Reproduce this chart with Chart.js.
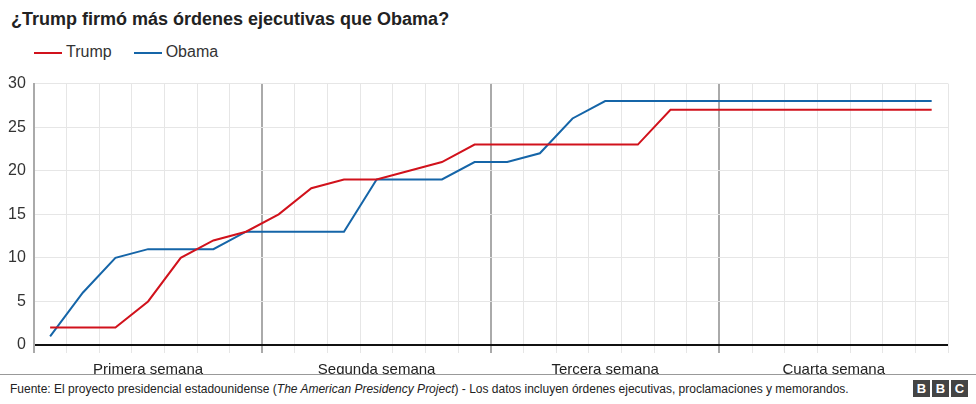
<!DOCTYPE html>
<html><head><meta charset="utf-8">
<script src="https://cdn.jsdelivr.net/npm/chart.js@4"></script>
<style>
body{margin:0;width:976px;height:404px;background:#fff;font-family:"Liberation Sans",Arial,sans-serif;position:relative;overflow:hidden}
#title{position:absolute;left:11px;top:9px;font-weight:bold;font-size:18px;color:#222}
#legend{position:absolute;left:34px;top:43px;font-size:16px;color:#333}
#legend span{display:inline-block;margin-right:22px}
#legend i{display:inline-block;width:28px;height:2px;vertical-align:middle;margin-right:4px}
#wrap{position:absolute;left:0;top:66px;width:976px;height:313px}
#foot{position:absolute;left:0;top:374px;width:976px;border-top:1px solid #999;font-size:12px;color:#222;padding:7px 10px;background:#fff}
#bbc{position:absolute;right:8px;top:379px}
#bbc b{display:inline-block;width:17px;height:17px;background:#444;color:#fff;font-size:13px;text-align:center;line-height:17px;margin-left:2px}
</style></head><body>
<div id="title">¿Trump firmó más órdenes ejecutivas que Obama?</div>
<div id="legend"><span><i style="background:#d1121c"></i>Trump</span><span><i style="background:#1565a8"></i>Obama</span></div>
<div id="wrap"><canvas id="c"></canvas></div>
<div id="foot">Fuente: El proyecto presidencial estadounidense (<i>The American Presidency Project</i>) - Los datos incluyen órdenes ejecutivas, proclamaciones y memorandos.</div>
<div id="bbc"><b>B</b><b>B</b><b>C</b></div>
<script>
const days = Array.from({length: 28}, (_, i) => "Día " + (i + 1));
const weeks = ["Primera semana", "Segunda semana", "Tercera semana", "Cuarta semana"];
const trump = [2,2,2,5,10,12,13,15,18,19,19,20,21,23,23,23,23,23,23,27,27,27,27,27,27,27,27,27];
const obama = [1,6,10,11,11,11,13,13,13,13,19,19,19,21,21,22,26,28,28,28,28,28,28,28,28,28,28,28];

new Chart(document.getElementById("c"), {
  type: "line",
  data: {
    labels: days,
    datasets: [
      { label: "Trump", data: trump, borderColor: "#d1121c", borderWidth: 2, pointRadius: 0, tension: 0 },
      { label: "Obama", data: obama, borderColor: "#1565a8", borderWidth: 2, pointRadius: 0, tension: 0 },
    ],
  },
  options: {
    responsive: true,
    maintainAspectRatio: false,
    animation: false,
    layout: { padding: { left: 0, right: 28, top: 5, bottom: 0 } },
    plugins: { legend: { display: false }, tooltip: { enabled: false } },
    scales: {
      x: {
        offset: true,
        grid: {
          offset: true,
          color: (c) => (c.index % 7 === 0 ? "#aaa" : "#e6e6e6"),
          lineWidth: (c) => (c.index % 7 === 0 ? 2 : 1),
          tickLength: 8,
        },
        border: { display: false },
        ticks: { display: false },
      },
      x2: {
        type: "category",
        labels: weeks,
        offset: true,
        grid: { display: false },
        border: { display: false },
        ticks: { color: "#222", font: { size: 15, family: "Liberation Sans" }, padding: 0 },
      },
      y: {
        min: 0,
        max: 30,
        ticks: { stepSize: 5, color: "#333", font: { size: 16, family: "Liberation Sans" }, padding: 8 },
        grid: {
          color: (c) => (c.tick.value === 0 ? "#111" : "#e6e6e6"),
          lineWidth: (c) => (c.tick.value === 0 ? 2 : 1),
          drawTicks: false,
        },
        border: { color: "#aaa", width: 2 },
      },
    },
  },
});
</script>
</body></html>
